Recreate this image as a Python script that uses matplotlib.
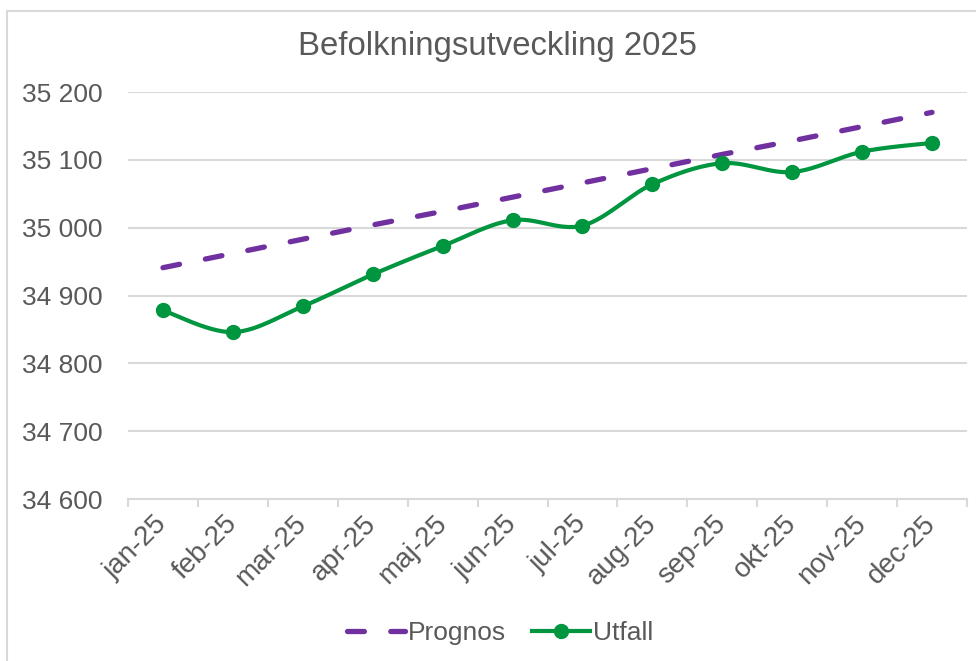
import numpy as np
import matplotlib
matplotlib.use("Agg")
import matplotlib.pyplot as plt
from matplotlib.patches import Rectangle
from matplotlib.lines import Line2D
from matplotlib.ticker import FixedLocator, FuncFormatter

# ---- data ----
months = ["jan-25", "feb-25", "mar-25", "apr-25", "maj-25", "jun-25",
          "jul-25", "aug-25", "sep-25", "okt-25", "nov-25", "dec-25"]
prognos = [34941, 34962, 34983, 35004, 35024, 35045,
           35066, 35087, 35108, 35128, 35149, 35170]
utfall = [34878, 34846, 34884, 34931, 34973, 35011,
          35003, 35064, 35095, 35082, 35112, 35125]
title = "Befolkningsutveckling 2025"
y_ticks = [34600, 34700, 34800, 34900, 35000, 35100, 35200]

TEXT = "#595959"
GRID = "#D9D9D9"
PURPLE = "#7030A0"
GREEN = "#00953F"

plt.rcParams['font.family'] = ['Liberation Sans', 'DejaVu Sans']

W, H = 976, 661
fig = plt.figure(figsize=(W / 100, H / 100), dpi=100)

# chart border (cut off on right and bottom)
fig.patches.append(Rectangle((6.5 / W, -0.1), 1.2, 1 - 10.5 / H + 0.1,
                             transform=fig.transFigure, fill=False,
                             edgecolor=GRID, linewidth=1.5))

ax = fig.add_axes([128 / W, 1 - 499 / H, (967 - 128) / W, (499 - 92) / H])


def smooth(y, n=30):
    """Excel-like smoothed line through points (Catmull-Rom Bezier)."""
    y = np.asarray(y, float)
    x = np.arange(len(y), dtype=float)
    P = np.column_stack([x, y])
    Pe = np.vstack([P[0], P, P[-1]])
    out = []
    t = np.linspace(0, 1, n)[:, None]
    for i in range(len(P) - 1):
        p0, p3 = Pe[i + 1], Pe[i + 2]
        c1 = p0 + (Pe[i + 2] - Pe[i]) / 6
        c2 = p3 - (Pe[i + 3] - Pe[i + 1]) / 6
        seg = ((1 - t) ** 3) * p0 + 3 * ((1 - t) ** 2) * t * c1 + \
              3 * (1 - t) * t ** 2 * c2 + t ** 3 * p3
        out.append(seg if i == 0 else seg[1:])
    s = np.vstack(out)
    return s[:, 0], s[:, 1]


DASH = (3.2, 5.0)
xs = np.arange(len(months))
ax.plot(xs, prognos, color=PURPLE, linewidth=3.8, dashes=DASH,
        dash_capstyle='round', zorder=3)
sx, sy = smooth(utfall)
ax.plot(sx, sy, color=GREEN, linewidth=3.0, zorder=4, solid_capstyle='round')
ax.plot(xs, utfall, linestyle='none', marker='o', markersize=10,
        color=GREEN, zorder=5)

ax.set_xlim(-0.5, len(months) - 0.5)
ax.set_ylim(y_ticks[0], y_ticks[-1])

ax.yaxis.set_major_locator(FixedLocator(y_ticks))
ax.yaxis.set_major_formatter(FuncFormatter(lambda v, p: f"{v:,.0f}".replace(",", " ")))
ax.grid(axis='y', color=GRID, linewidth=1.5)
ax.set_axisbelow(True)

ax.set_xticks(xs)
ax.set_xticklabels(months, rotation=45, ha='right', va='center',
                   rotation_mode='anchor')
ax.xaxis.set_minor_locator(FixedLocator(np.arange(-0.5, len(months), 1.0)))
ax.tick_params(axis='x', which='major', length=0, pad=15, labelsize=20,
               labelcolor=TEXT)
ax.tick_params(axis='x', which='minor', length=6, width=1.5, color=GRID)
ax.tick_params(axis='y', length=0, pad=18, labelsize=19, labelcolor=TEXT)

for s in ['top', 'right', 'left']:
    ax.spines[s].set_visible(False)
ax.spines['bottom'].set_color(GRID)
ax.spines['bottom'].set_linewidth(1.5)

fig.text(497 / W, 1 - 47 / H, title, ha='center', va='center',
         fontsize=23.7, color=TEXT)

handles = [
    Line2D([], [], color=PURPLE, linewidth=3.8, dashes=DASH,
           dash_capstyle='round'),
    Line2D([], [], color=GREEN, linewidth=3.0, marker='o', markersize=10),
]
fig.legend(handles, ["Prognos", "Utfall"], loc='center',
           bbox_to_anchor=(500 / W, 1 - 633 / H), ncol=2, frameon=False,
           fontsize=19, labelcolor=TEXT, handlelength=2.2, handletextpad=0.1,
           columnspacing=1.0)

fig.savefig("out.png", dpi=100)
